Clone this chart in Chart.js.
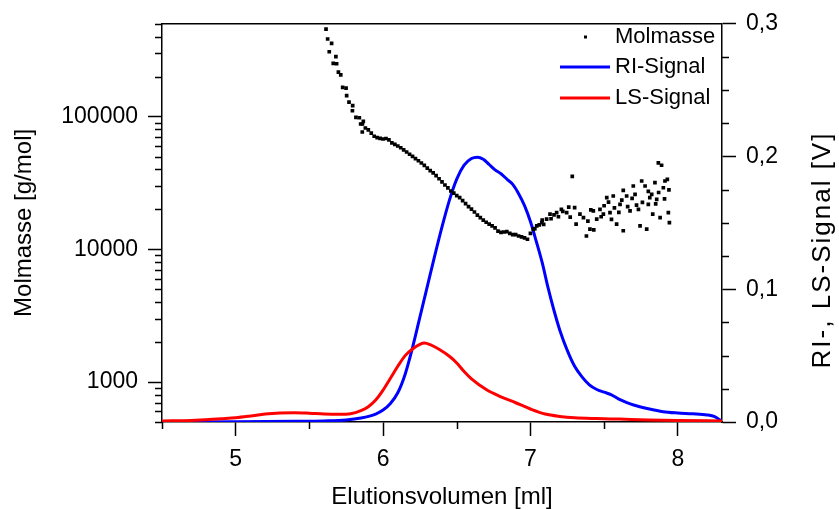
<!DOCTYPE html>
<html>
<head>
<meta charset="utf-8">
<script src="https://cdn.jsdelivr.net/npm/chart.js@4.4.1/dist/chart.umd.min.js"></script>
<style>
  body { margin: 0; background: #fff; }
  #wrap { width: 839px; height: 510px; }
</style>
</head>
<body>
<div id="wrap"><canvas id="gpc" width="839" height="510"></canvas></div>
<script>
// RI-Signal (blue), elution volume [ml] vs signal [V]
const riX = [4.50, 5.00, 5.40, 5.60, 5.75, 5.85, 5.95, 6.00, 6.05, 6.10, 6.15, 6.20, 6.25, 6.30, 6.35, 6.40, 6.45, 6.50, 6.55, 6.60, 6.64, 6.68, 6.72, 6.76, 6.80, 6.84, 6.88, 6.92, 6.96, 7.00, 7.04, 7.08, 7.12, 7.16, 7.20, 7.25, 7.30, 7.35, 7.40, 7.45, 7.50, 7.55, 7.60, 7.65, 7.70, 7.80, 7.90, 8.00, 8.10, 8.20, 8.25, 8.30];
const riY = [0.0000, 0.0002, 0.0005, 0.0008, 0.0015, 0.0030, 0.0060, 0.0090, 0.0140, 0.0220, 0.0360, 0.0560, 0.0790, 0.1020, 0.1250, 0.1470, 0.1670, 0.1830, 0.1935, 0.1985, 0.1995, 0.1980, 0.1940, 0.1900, 0.1870, 0.1830, 0.1790, 0.1720, 0.1630, 0.1510, 0.1360, 0.1200, 0.1010, 0.0840, 0.0690, 0.0540, 0.0420, 0.0340, 0.0280, 0.0245, 0.0225, 0.0205, 0.0172, 0.0148, 0.0128, 0.0100, 0.0078, 0.0068, 0.0062, 0.0053, 0.0040, 0.0005];

// LS-Signal (red)
const lsX = [4.50, 4.70, 4.90, 5.00, 5.10, 5.20, 5.30, 5.40, 5.50, 5.60, 5.70, 5.78, 5.85, 5.90, 5.95, 6.00, 6.05, 6.10, 6.15, 6.20, 6.25, 6.28, 6.32, 6.38, 6.45, 6.50, 6.55, 6.60, 6.70, 6.80, 6.90, 7.00, 7.10, 7.20, 7.30, 7.45, 7.60, 7.80, 8.00, 8.30];
const lsY = [0.0008, 0.0012, 0.0025, 0.0032, 0.0045, 0.0060, 0.0068, 0.0070, 0.0066, 0.0060, 0.0058, 0.0062, 0.0085, 0.0115, 0.0165, 0.0240, 0.0330, 0.0420, 0.0500, 0.0550, 0.0585, 0.0595, 0.0583, 0.0548, 0.0495, 0.0445, 0.0380, 0.0325, 0.0245, 0.0190, 0.0145, 0.0098, 0.0060, 0.0042, 0.0032, 0.0026, 0.0022, 0.0016, 0.0012, 0.0008];

// Molmasse [g/mol] (black points)
const molX = [5.613, 5.624, 5.651, 5.635, 5.680, 5.662, 5.685, 5.697, 5.713, 5.726, 5.749, 5.753, 5.769, 5.794, 5.792, 5.816, 5.839, 5.866, 5.848, 5.859,
  5.86, 5.88, 5.90, 5.92, 5.94, 5.96, 5.98, 6.00, 6.02, 6.04, 6.06, 6.08, 6.10, 6.12, 6.14, 6.16, 6.18, 6.20, 6.22, 6.24, 6.26, 6.28, 6.30, 6.32, 6.34, 6.36, 6.38, 6.40, 6.42, 6.44, 6.46, 6.48, 6.50, 6.52, 6.54, 6.56, 6.58, 6.60, 6.62, 6.64, 6.66, 6.68, 6.70, 6.72, 6.74, 6.76, 6.78, 6.80, 6.82, 6.84, 6.86, 6.88, 6.90, 6.92, 6.94, 6.96, 6.98, 7.00,
  7.02, 7.03, 7.043, 7.06, 7.077, 7.08, 7.09, 7.11, 7.133, 7.14, 7.16, 7.178, 7.19, 7.21, 7.22, 7.246, 7.26, 7.27, 7.284, 7.30, 7.31, 7.336, 7.36, 7.38, 7.39, 7.404, 7.41, 7.427, 7.43, 7.45, 7.472, 7.48, 7.495, 7.50, 7.518, 7.53, 7.54, 7.55, 7.562, 7.57, 7.585, 7.60, 7.608, 7.62, 7.63, 7.63, 7.653, 7.66, 7.676, 7.69, 7.698, 7.71, 7.72, 7.733, 7.744, 7.755, 7.76, 7.778, 7.789, 7.80, 7.80, 7.81, 7.823, 7.83, 7.845, 7.85, 7.857, 7.868, 7.87, 7.88, 7.89, 7.902, 7.91, 7.913, 7.929, 7.936, 7.94, 7.943];
const molY = [456000, 384000, 356000, 308000, 283000, 252000, 250000, 216000, 206000, 166000, 164000, 144000, 128500, 121000, 110600, 98600, 98000, 92000, 87900, 76500,
  87900, 82000, 79500, 75000, 71100, 69500, 68500, 67800, 68400, 66800, 63300, 61700, 60000, 58200, 56200, 54100, 52000, 50100, 48200, 46500, 44700, 42900, 40900, 39200, 37700, 35900, 34000, 32200, 30500, 29000, 27500, 26500, 25400, 24500, 23300, 22100, 21000, 20100, 19100, 18100, 17300, 16600, 16000, 15500, 15000, 14500, 13700, 13400, 13500, 13600, 13200, 12900, 12900, 12600, 12400, 12200, 11900, 13200,
  14200, 14300, 15000, 15300, 15900, 16600, 15400, 16900, 18400, 17000, 18200, 18900, 17600, 20000, 19300, 18900, 20800, 17500, 35400, 20600, 15500, 18400, 17300, 12600, 16300, 14200, 19800, 19500, 14000, 16900, 20000, 17600, 18400, 21300, 24500, 22700, 18900, 16800, 25200, 20500, 15500, 19000, 21800, 23500, 13800, 27800, 25200, 21000, 19500, 24200, 30000, 25900, 21500, 20000, 15000, 32700, 22600, 30000, 14200, 21800, 27300, 24500, 25900, 18400, 31800, 22000, 23800, 44800, 26800, 17300, 43000, 29100, 24000, 32700, 33600, 18900, 28000, 15900];

// axis ticks
const xTicks = [5, 6, 7, 8];
const xMinor = [4.5, 5.5, 6.5, 7.5];
const yTicks = [1000, 10000, 100000];
const yMinor = [500, 600, 700, 800, 900, 2000, 3000, 4000, 5000, 6000, 7000, 8000, 9000,
  20000, 30000, 40000, 50000, 60000, 70000, 80000, 90000, 200000, 300000, 400000, 500000];
const y2Ticks = [0, 0.1, 0.2, 0.3];
const y2Minor = [0.025, 0.05, 0.075, 0.125, 0.15, 0.175, 0.225, 0.25, 0.275];

const FONT = "'Liberation Sans', Arial, sans-serif";

function pts(xs, ys) {
  return xs.map((x, i) => ({ x: x, y: ys[i] }));
}

// minor ticks, top frame line, right title and legend
const extras = {
  id: 'extras',
  afterDraw(chart) {
    const ctx = chart.ctx;
    const a = chart.chartArea;
    const sx = chart.scales.x, sy = chart.scales.y, sy2 = chart.scales.y2;
    ctx.save();
    ctx.strokeStyle = '#000';
    ctx.lineWidth = 1.5;
    ctx.beginPath();
    xMinor.forEach(v => {
      const p = Math.round(sx.getPixelForValue(v)) + 0.5;
      ctx.moveTo(p, a.bottom); ctx.lineTo(p, a.bottom + 7);
    });
    yMinor.forEach(v => {
      const p = Math.round(sy.getPixelForValue(v)) + 0.5;
      ctx.moveTo(a.left, p); ctx.lineTo(a.left - 7, p);
    });
    y2Minor.forEach(v => {
      const p = Math.round(sy2.getPixelForValue(v)) + 0.5;
      ctx.moveTo(a.right, p); ctx.lineTo(a.right + 7, p);
    });
    ctx.moveTo(a.left, a.top); ctx.lineTo(a.right, a.top);
    ctx.stroke();

    // right axis title, reading bottom to top
    ctx.fillStyle = '#000';
    ctx.font = '26px ' + FONT;
    ctx.letterSpacing = '2px';
    ctx.textAlign = 'center';
    ctx.textBaseline = 'middle';
    ctx.translate(823, 250);
    ctx.rotate(-Math.PI / 2);
    ctx.fillText('RI-, LS-Signal [V]', 0, 0);
    ctx.setTransform(1, 0, 0, 1, 0, 0);
    ctx.letterSpacing = '0px';

    // legend
    const ds = chart.data.datasets;
    ctx.font = '22px ' + FONT;
    ctx.textAlign = 'left';
    const rows = [
      { d: ds[0], y: 37 },
      { d: ds[2], y: 67 },
      { d: ds[1], y: 98 }
    ];
    rows.forEach(r => {
      if (r.d.showLine === false) {
        ctx.fillStyle = r.d.backgroundColor;
        ctx.fillRect(584, r.y - 1.5, 3, 3);
      } else {
        ctx.strokeStyle = r.d.borderColor;
        ctx.lineWidth = r.d.borderWidth;
        ctx.beginPath();
        ctx.moveTo(560, r.y); ctx.lineTo(610, r.y);
        ctx.stroke();
      }
      ctx.fillStyle = '#000';
      ctx.fillText(r.d.label, 615, r.y);
    });
    ctx.restore();
  }
};

const axisGrid = {
  drawOnChartArea: false,
  drawTicks: true,
  tickLength: 14,
  tickWidth: 1.5,
  tickColor: '#000'
};
const axisBorder = { display: true, color: '#000', width: 1.5 };

new Chart(document.getElementById('gpc'), {
  type: 'line',
  data: {
    datasets: [
      {
        label: 'Molmasse',
        data: pts(molX, molY),
        yAxisID: 'y',
        showLine: false,
        pointStyle: 'rect',
        pointRadius: 2.6,
        pointBorderWidth: 0,
        backgroundColor: '#000',
        borderColor: '#000'
      },
      {
        label: 'LS-Signal',
        data: pts(lsX, lsY),
        yAxisID: 'y2',
        borderColor: '#ff0000',
        borderWidth: 3,
        pointRadius: 0,
        cubicInterpolationMode: 'monotone'
      },
      {
        label: 'RI-Signal',
        data: pts(riX, riY),
        yAxisID: 'y2',
        borderColor: '#0000ff',
        borderWidth: 3,
        pointRadius: 0,
        cubicInterpolationMode: 'monotone'
      }
    ]
  },
  options: {
    responsive: false,
    animation: false,
    devicePixelRatio: 1,
    layout: { padding: { top: 22, left: 0, right: 0, bottom: 0 } },
    plugins: {
      legend: { display: false },
      tooltip: { enabled: false }
    },
    scales: {
      x: {
        type: 'linear',
        min: 4.5,
        max: 8.3,
        afterBuildTicks: s => { s.ticks = xTicks.map(v => ({ value: v })); },
        afterFit: s => { s.height = 88; },
        grid: axisGrid,
        border: axisBorder,
        ticks: { font: { family: FONT, size: 23 }, color: '#000', padding: 10, maxRotation: 0 },
        title: {
          display: true,
          text: 'Elutionsvolumen [ml]',
          color: '#000',
          font: { family: FONT, size: 24, lineHeight: 1 },
          padding: { top: 0, bottom: 1 }
        }
      },
      y: {
        type: 'logarithmic',
        position: 'left',
        min: 500,
        max: 500000,
        afterBuildTicks: s => { s.ticks = yTicks.map(v => ({ value: v })); },
        afterFit: s => { s.width = 162; },
        grid: axisGrid,
        border: axisBorder,
        ticks: {
          font: { family: FONT, size: 23 },
          color: '#000',
          padding: 10,
          callback: v => String(v)
        },
        title: {
          display: true,
          text: 'Molmasse [g/mol]',
          color: '#000',
          font: { family: FONT, size: 24, lineHeight: 1 },
          padding: { top: 12, bottom: 0 }
        }
      },
      y2: {
        type: 'linear',
        position: 'right',
        min: 0,
        max: 0.3,
        afterBuildTicks: s => { s.ticks = y2Ticks.map(v => ({ value: v })); },
        afterFit: s => { s.width = 117; },
        grid: axisGrid,
        border: axisBorder,
        ticks: {
          font: { family: FONT, size: 23 },
          color: '#000',
          padding: 10,
          callback: v => v.toFixed(1).replace('.', ',')
        }
      }
    }
  },
  plugins: [extras]
});
</script>
</body>
</html>
